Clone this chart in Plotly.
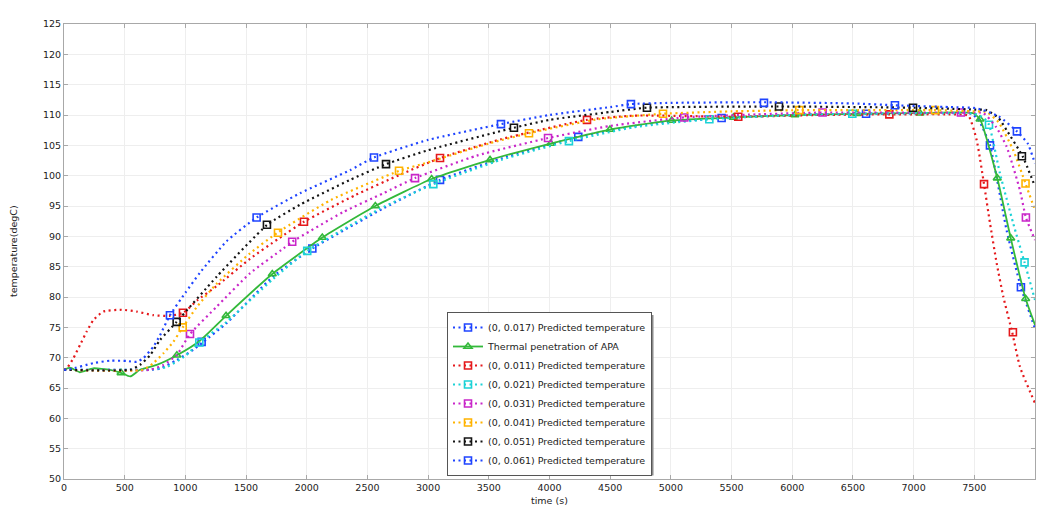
import plotly.graph_objects as go

# ---------------- data ----------------
# (0, 0.017) predicted temperature  (lower blue curve)
b17_x = [0, 300, 700, 791, 928, 1065, 1148, 1340, 1724, 2046, 2631, 3098, 3600, 4237, 4800, 5418, 6000, 6608, 7300, 7480, 7540, 7629, 7766, 7884, 8000]
b17_y = [68.0, 68.0, 68.0, 68.2, 69.6, 71.3, 72.6, 75.7, 83.4, 88.0, 94.6, 99.3, 102.8, 106.4, 108.5, 109.5, 110.0, 110.2, 110.3, 110.2, 109.0, 105.0, 91.0, 81.6, 74.8]
b17_mx = [1134, 2046, 3098, 4237, 5418, 6608, 7629, 7884]
b17_my = [72.6, 88.0, 99.3, 106.4, 109.5, 110.2, 105.0, 81.6]

# Thermal penetration of APA (measured, green)
apa_x = [0, 50, 130, 240, 380, 470, 545, 626, 764, 930, 1120, 1335, 1716, 2128, 2565, 3029, 3510, 4010, 4498, 5007, 5515, 6022, 6531, 7052, 7489, 7547, 7689, 7800, 7923, 8000]
apa_y = [68.0, 68.35, 67.6, 68.25, 68.0, 67.5, 66.9, 68.0, 68.8, 70.4, 72.8, 76.9, 83.8, 89.8, 95.0, 99.45, 102.6, 105.3, 107.6, 109.1, 109.6, 110.0, 110.2, 110.3, 110.3, 109.3, 99.6, 89.7, 79.7, 75.4]
apa_mx = [470, 930, 1335, 1716, 2128, 2565, 3029, 3510, 4010, 4498, 5007, 5515, 6022, 6531, 7052, 7547, 7689, 7800, 7923]
apa_my = [67.5, 70.4, 76.9, 83.8, 89.8, 95.0, 99.45, 102.6, 105.3, 107.6, 109.1, 109.6, 110.0, 110.2, 110.3, 109.3, 99.6, 89.7, 79.7]

# (0, 0.011)
r11_x = [0, 22, 77, 132, 187, 242, 324, 475, 599, 736, 873, 983, 1100, 1258, 1532, 1766, 1977, 2400, 2762, 3098, 3600, 4309, 4700, 5555, 6200, 6800, 7300, 7450, 7519, 7580, 7629, 7684, 7739, 7813, 7876, 8000]
r11_y = [68.0, 68.2, 69.9, 72.1, 74.3, 76.2, 77.6, 77.9, 77.6, 77.0, 76.9, 77.4, 79.5, 81.8, 86.3, 89.6, 92.4, 96.8, 100.1, 102.9, 106.0, 109.2, 109.9, 109.7, 110.0, 110.1, 110.1, 109.9, 105.9, 98.6, 92.2, 85.6, 80.05, 74.1, 68.5, 62.5]
r11_mx = [980, 1977, 3098, 4309, 5555, 6800, 7580, 7818]
r11_my = [77.4, 92.4, 102.9, 109.2, 109.7, 110.1, 98.6, 74.2]

# (0, 0.021)
c21_x = [0, 600, 700, 850, 1000, 1115, 1340, 1724, 2004, 2600, 3043, 3600, 4160, 4700, 5317, 6000, 6495, 7200, 7500, 7580, 7621, 7711, 7821, 7914, 8000]
c21_y = [68.0, 68.0, 68.0, 68.5, 70.3, 72.5, 75.9, 83.0, 87.6, 94.5, 98.6, 102.6, 105.7, 108.0, 109.3, 110.0, 110.2, 110.3, 110.2, 109.5, 108.4, 100.4, 92.1, 85.7, 79.5]
c21_mx = [1115, 2004, 3043, 4160, 5317, 6495, 7621, 7914]
c21_my = [72.5, 87.6, 98.6, 105.7, 109.3, 110.2, 108.4, 85.7]

# (0, 0.031)
m31_x = [0, 709, 818, 928, 1038, 1258, 1532, 1807, 1880, 2300, 2631, 2892, 3400, 3988, 4500, 5110, 5700, 6250, 7000, 7390, 7574, 7680, 7766, 7876, 7925, 8000]
m31_y = [68.0, 68.0, 68.8, 70.4, 73.9, 78.4, 83.9, 88.0, 89.1, 94.0, 97.1, 99.6, 103.3, 106.2, 108.2, 109.6, 110.1, 110.4, 110.4, 110.4, 110.3, 108.0, 104.8, 97.6, 93.1, 89.4]
m31_mx = [1038, 1880, 2892, 3988, 5110, 6250, 7390, 7925]
m31_my = [73.9, 89.1, 99.6, 106.2, 109.6, 110.4, 110.4, 93.1]

# (0, 0.041)
o41_x = [0, 650, 736, 818, 900, 978, 1100, 1258, 1532, 1766, 2200, 2762, 3000, 3500, 3831, 4400, 4935, 5500, 6058, 6600, 7176, 7500, 7600, 7700, 7821, 7922, 8000]
o41_y = [68.0, 68.0, 69.1, 70.7, 72.6, 75.0, 78.5, 82.2, 87.2, 90.7, 96.0, 100.8, 102.2, 105.3, 107.0, 109.3, 110.2, 110.6, 110.8, 110.8, 110.8, 110.6, 110.5, 108.8, 104.2, 98.7, 94.3]
o41_mx = [978, 1763, 2760, 3831, 4935, 6058, 7176, 7922]
o41_my = [75.0, 90.6, 100.8, 107.0, 110.2, 110.8, 110.8, 98.7]

# (0, 0.051)
k51_x = [0, 544, 626, 709, 791, 928, 1258, 1675, 1944, 2356, 2653, 3000, 3707, 4000, 4500, 4803, 5891, 6995, 7500, 7600, 7700, 7766, 7898, 8000]
k51_y = [68.0, 68.0, 68.8, 70.4, 72.9, 75.9, 83.35, 91.9, 95.2, 99.3, 101.9, 104.2, 107.9, 109.2, 110.5, 111.2, 111.4, 111.2, 110.9, 110.8, 109.5, 107.5, 103.2, 98.2]
k51_mx = [928, 1672, 2653, 3707, 4803, 5891, 6995, 7892]
k51_my = [75.9, 91.9, 101.9, 107.9, 111.2, 111.4, 111.2, 103.2]

# (0, 0.061)
b61_x = [0, 49, 242, 379, 516, 599, 653, 736, 791, 873, 1000, 1120, 1340, 1587, 1944, 2356, 2554, 3000, 3600, 4000, 4500, 4671, 5000, 5767, 6500, 6846, 7300, 7520, 7700, 7851, 7940, 8000]
b61_y = [68.0, 68.1, 69.1, 69.5, 69.45, 69.3, 69.9, 71.8, 73.7, 77.0, 80.7, 84.0, 89.2, 93.1, 97.1, 100.9, 103.0, 105.9, 108.5, 110.0, 111.3, 111.8, 112.0, 112.1, 111.9, 111.6, 111.3, 111.1, 109.8, 107.3, 105.3, 102.0]
b61_mx = [873, 1587, 2554, 3600, 4671, 5767, 6846, 7851]
b61_my = [77.0, 93.1, 103.0, 108.5, 111.8, 112.0, 111.6, 107.3]

y_ticks = [50, 55, 60, 65, 70, 75, 80, 85, 90, 95, 100, 105, 110, 115, 120, 125]
x_ticks = [0, 500, 1000, 1500, 2000, 2500, 3000, 3500, 4000, 4500, 5000, 5500, 6000, 6500, 7000, 7500]

# ---------------- styling ----------------
BLUE = "#1f44ff"
GREEN = "#33b93a"
RED = "#e5191c"
CYAN = "#1cd2d6"
MAGENTA = "#c926c9"
ORANGE = "#ffb300"
BLACK = "#141414"
DOT = "2px,3.5px"
FONT = "DejaVu Sans"

series = [
    ("(0, 0.017) Predicted temperature", BLUE, b17_x, b17_y, b17_mx, b17_my, "square-open", DOT),
    ("Thermal penetration of APA", GREEN, apa_x, apa_y, apa_mx, apa_my, "triangle-up-open", "solid"),
    ("(0, 0.011) Predicted temperature", RED, r11_x, r11_y, r11_mx, r11_my, "square-open", DOT),
    ("(0, 0.021) Predicted temperature", CYAN, c21_x, c21_y, c21_mx, c21_my, "square-open", DOT),
    ("(0, 0.031) Predicted temperature", MAGENTA, m31_x, m31_y, m31_mx, m31_my, "square-open", DOT),
    ("(0, 0.041) Predicted temperature", ORANGE, o41_x, o41_y, o41_mx, o41_my, "square-open", DOT),
    ("(0, 0.051) Predicted temperature", BLACK, k51_x, k51_y, k51_mx, k51_my, "square-open", DOT),
    ("(0, 0.061) Predicted temperature", BLUE, b61_x, b61_y, b61_mx, b61_my, "square-open", DOT),
]

fig = go.Figure()
for name, col, xs, ys, mx, my, sym, dash in series:
    lw = 1.8 if dash == "solid" else 2.2
    fig.add_trace(go.Scatter(
        x=xs, y=ys, mode="lines", showlegend=False, hoverinfo="skip",
        line=dict(color=col, width=lw, dash=dash, shape="spline", smoothing=0.5),
    ))
    fig.add_trace(go.Scatter(
        x=mx, y=my, mode="markers", showlegend=False,
        marker=dict(symbol=sym, size=7, color=col, line=dict(color=col, width=1.6)),
    ))
for name, col, xs, ys, mx, my, sym, dash in series:
    lw = 1.8 if dash == "solid" else 2.2
    fig.add_trace(go.Scatter(
        x=[None], y=[None], mode="lines+markers", name=name,
        line=dict(color=col, width=lw, dash=dash),
        marker=dict(symbol=sym, size=7, color=col, line=dict(color=col, width=1.6)),
    ))

axis_common = dict(
    showline=True, linecolor="#a8a8a8", linewidth=1, mirror="ticks",
    ticks="inside", ticklen=4, tickcolor="#a8a8a8",
    showgrid=True, gridcolor="#eeeeee", gridwidth=1,
    zeroline=False, tickfont=dict(family=FONT, size=9.5, color="#222222"),
)

# plot-area pixel helpers for the legend drop shadow (paper coordinates)
def px_x(p):
    return (p - 64) / 971.0

def px_y(p):
    return (479 - p) / 455.0

fig.update_layout(
    width=1041, height=507,
    margin=dict(l=64, r=6, t=24, b=28),
    paper_bgcolor="white", plot_bgcolor="white",
    font=dict(family=FONT, size=9.5, color="#222222"),
    xaxis=dict(range=[0, 8000], tickvals=x_ticks, **axis_common),
    yaxis=dict(range=[50, 125], tickvals=y_ticks, **axis_common),
    showlegend=True,
    legend=dict(
        x=px_x(447), y=px_y(312), xanchor="left", yanchor="top",
        bgcolor="white", bordercolor="#555555", borderwidth=1,
        font=dict(family=FONT, size=9.5, color="#222222"),
        itemwidth=30, tracegroupgap=0,
    ),
    shapes=[
        dict(type="rect", xref="paper", yref="paper", layer="above",
             x0=px_x(450), x1=px_x(653.5), y0=px_y(475.5), y1=px_y(315),
             fillcolor="#8a8a8a", line=dict(width=0)),
    ],
    annotations=[
        dict(text="time (s)", xref="paper", yref="paper", x=0.5, y=0, yshift=-14,
             xanchor="center", yanchor="top", showarrow=False,
             font=dict(family=FONT, size=9.5, color="#222222")),
        dict(text="temperature(degC)", xref="paper", yref="paper", x=0, y=0.5, xshift=-43,
             xanchor="right", yanchor="middle", textangle=-90, showarrow=False,
             font=dict(family=FONT, size=9.5, color="#222222")),
    ],
)

fig.write_html("out.html")
